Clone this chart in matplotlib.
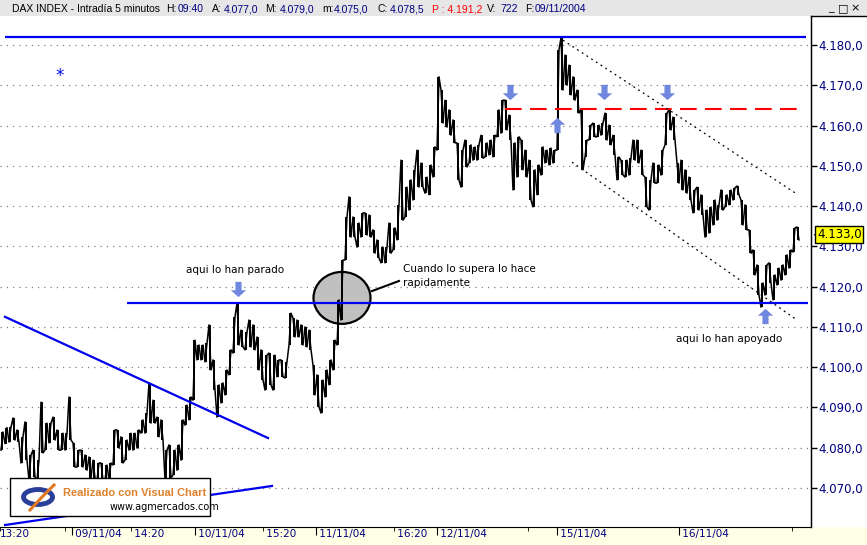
import matplotlib
matplotlib.use("Agg")
from matplotlib import pyplot as plt
from matplotlib.path import Path
from matplotlib.patches import Ellipse, Rectangle
from matplotlib.lines import Line2D
import matplotlib.transforms as mtransforms

# --- data (one bar ~ 20 min, low / high) ---
lows = [4079.4, 4081.0, 4081.4, 4081.9, 4081.4, 4076.2, 4076.9, 4072.0, 4072.7, 4072.0,
        4078.7, 4079.4, 4081.2, 4081.9, 4079.4, 4079.4, 4079.4, 4081.9, 4075.2, 4075.2,
        4075.2, 4074.4, 4072.5, 4072.5, 4072.0, 4072.0, 4072.0, 4072.0, 4075.7, 4079.9,
        4076.2, 4076.9, 4079.4, 4079.4, 4079.9, 4083.6, 4083.6, 4086.1, 4086.1, 4082.7,
        4081.9, 4072.0, 4072.5, 4073.2, 4074.4, 4076.9, 4085.6, 4086.9, 4091.8, 4101.8,
        4101.8, 4101.3, 4099.3, 4094.3, 4087.6, 4091.1, 4093.1, 4098.1, 4103.5, 4105.5,
        4105.0, 4104.3, 4105.0, 4104.3, 4099.3, 4096.8, 4094.3, 4095.6, 4094.3, 4097.6,
        4097.6, 4097.3, 4105.5, 4107.5, 4107.5, 4105.5, 4105.0, 4104.3, 4093.1, 4090.1,
        4088.6, 4092.6, 4095.6, 4099.3, 4105.5, 4111.7, 4126.6, 4132.3, 4132.3, 4129.8,
        4132.3, 4132.8, 4132.3, 4128.3, 4127.1, 4125.9, 4125.9, 4128.3, 4129.1, 4131.6,
        4136.5, 4137.3, 4139.0, 4141.5, 4144.7, 4144.7, 4143.2, 4142.8, 4147.2, 4153.9,
        4160.6, 4159.6, 4157.6, 4155.7, 4146.5, 4144.7, 4149.7, 4150.7, 4151.4, 4151.4,
        4151.9, 4152.2, 4152.7, 4152.2, 4157.2, 4158.1, 4158.9, 4156.4, 4144.0, 4147.2,
        4149.0, 4147.2, 4141.5, 4139.8, 4142.8, 4147.7, 4150.7, 4150.2, 4150.7, 4153.9,
        4168.8, 4170.0, 4167.6, 4166.3, 4163.1, 4149.0, 4152.2, 4156.4, 4157.2, 4157.2,
        4157.6, 4156.4, 4155.2, 4152.7, 4146.5, 4147.7, 4147.2, 4147.7, 4151.4, 4150.7,
        4147.7, 4139.8, 4139.0, 4145.7, 4145.7, 4147.7, 4155.2, 4158.9, 4156.4, 4145.7,
        4144.0, 4143.2, 4141.5, 4138.3, 4139.0, 4137.8, 4132.3, 4133.3, 4135.3, 4136.5,
        4139.0, 4139.8, 4140.3, 4141.5, 4142.8, 4135.3, 4134.1, 4128.3, 4122.9, 4117.9,
        4114.9, 4117.9, 4120.9, 4116.7, 4120.4, 4121.6, 4122.9, 4124.6, 4128.6, 4131.6]
highs = [4083.9, 4085.0, 4085.1, 4087.4, 4084.4, 4082.7, 4086.4, 4078.2, 4079.4, 4076.9,
         4091.3, 4086.1, 4086.1, 4087.6, 4084.4, 4083.6, 4083.6, 4092.6, 4081.2, 4079.4,
         4079.4, 4078.2, 4077.7, 4076.9, 4076.2, 4076.2, 4075.7, 4076.2, 4084.4, 4084.4,
         4082.7, 4081.9, 4083.6, 4083.6, 4084.4, 4086.9, 4088.6, 4096.1, 4091.8, 4087.6,
         4086.9, 4079.4, 4080.7, 4079.4, 4080.7, 4086.9, 4090.6, 4092.6, 4106.7, 4105.5,
         4105.5, 4106.0, 4110.5, 4101.8, 4095.6, 4096.1, 4099.3, 4104.3, 4112.5, 4115.9,
         4109.2, 4108.7, 4111.7, 4110.5, 4107.5, 4104.3, 4103.0, 4103.5, 4103.0, 4101.8,
         4101.8, 4101.3, 4113.4, 4112.2, 4111.7, 4110.5, 4110.0, 4109.2, 4100.5, 4098.1,
         4096.8, 4099.3, 4101.8, 4106.7, 4116.7, 4126.6, 4137.3, 4142.3, 4137.3, 4135.8,
         4138.3, 4138.3, 4137.8, 4134.1, 4131.6, 4129.8, 4129.8, 4135.8, 4134.6, 4140.3,
         4151.4, 4144.7, 4146.5, 4149.0, 4153.9, 4150.7, 4147.2, 4150.2, 4154.7, 4172.1,
         4168.8, 4166.3, 4163.9, 4161.4, 4155.7, 4153.9, 4156.4, 4155.2, 4154.7, 4155.2,
         4157.6, 4155.7, 4156.4, 4157.6, 4163.9, 4166.3, 4166.3, 4162.6, 4155.7, 4157.2,
         4156.4, 4153.9, 4151.4, 4149.0, 4150.2, 4154.7, 4153.9, 4154.4, 4153.9, 4178.8,
         4181.8, 4177.5, 4175.0, 4172.1, 4168.8, 4163.9, 4156.4, 4160.1, 4160.6, 4160.1,
         4160.6, 4163.1, 4160.1, 4157.6, 4152.2, 4151.4, 4151.4, 4151.9, 4156.4, 4156.4,
         4153.9, 4147.2, 4146.5, 4150.7, 4150.2, 4153.9, 4163.1, 4163.9, 4162.1, 4150.7,
         4151.4, 4149.0, 4147.2, 4144.0, 4144.7, 4142.8, 4139.0, 4139.8, 4141.5, 4140.3,
         4144.0, 4142.8, 4144.0, 4144.5, 4145.0, 4141.5, 4140.3, 4134.1, 4129.1, 4125.4,
         4120.9, 4125.4, 4125.9, 4122.9, 4124.6, 4125.4, 4127.9, 4129.1, 4134.6, 4134.8]
last_price = 4133.0

price_ticks = [4070, 4080, 4090, 4100, 4110, 4120, 4130, 4140, 4150, 4160, 4170, 4180]
day_ticks = [17.5, 48.25, 78.5, 108.75, 138.75, 169.25]
day_labels = ["09/11/04", "10/11/04", "11/11/04", "12/11/04", "15/11/04", "16/11/04"]
time_ticks = [-0.5, 15.75, 32.25, 65.25, 98.0, 131.5, 197.5]
time_labels = ["13:20", "", "14:20", "15:20", "16:20", "", ""]

# drawn studies (bar index, price)
top_level = 4182.0
support_level = 4116.0
resist_level = 4164.0
desc_x, desc_y = [0.75, 66.5], [4112.5, 4082.4]
asc_x, asc_y = [0.75, 67.5], [4060.8, 4070.5]
chan_up_x, chan_up_y = [140.25, 199.0], [4181.2, 4142.8]
chan_dn_x, chan_dn_y = [142.5, 198.75], [4150.9, 4111.7]
down_arrows = [(59.0, 4119.4), (127.0, 4168.3), (150.5, 4168.3), (166.25, 4168.3)]
up_arrows = [(138.75, 4160.1), (190.75, 4112.7)]

W, H = 867, 545


def fx(x):
    return x / W


def fy(y):
    return 1 - y / H


fig = plt.figure(figsize=(W / 100, H / 100), dpi=100)
fig.patch.set_facecolor("white")

# header bar and bottom strip
fig.add_artist(Rectangle((0, fy(16)), 1, 16 / H, transform=fig.transFigure,
                         facecolor="#e6e6e6", edgecolor="none", zorder=0))
fig.add_artist(Rectangle((0, 0), 1, 18 / H, transform=fig.transFigure,
                         facecolor="#ffffe6", edgecolor="none", zorder=0))

ax = fig.add_axes([0, fy(527), 811 / W, (527 - 17) / H])
ax.set_facecolor("none")
n = len(lows)
ax.set_xlim(-0.5, 811 / 4 - 0.5)
ax.set_ylim(4180 - (527 - 45) / 4.027, 4180 + 28 / 4.027)

# price bars: high-low sticks joined into one jagged trace
xs, ys = [], []
for i in range(n):
    mid = (lows[i] + highs[i]) / 2
    nxt = (lows[i + 1] + highs[i + 1]) / 2 if i + 1 < n else last_price
    a, b = (lows[i], highs[i]) if nxt >= mid else (highs[i], lows[i])
    xs += [i - 0.25, i + 0.25]
    ys += [a, b]
ax.vlines(range(n), lows, highs, color="black", lw=1.4, zorder=3)
ax.plot(xs, ys, color="black", lw=1.1, zorder=3)

# grid + axes
ax.set_yticks(price_ticks)
ax.set_yticklabels([f"{v:,.1f}".replace(",", "X").replace(".", ",").replace("X", ".")
                    for v in price_ticks])
ax.yaxis.tick_right()
ax.tick_params(axis="y", length=4, width=1, pad=1, labelsize=8.5, labelcolor="#000080")
ax.grid(axis="y", color="#808080", linestyle=(0, (1, 4)), lw=0.9)
for s in ["top", "left"]:
    ax.spines[s].set_visible(False)
ax.spines["right"].set_color("black")
ax.spines["bottom"].set_color("black")

ax.set_xticks(day_ticks)
ax.set_xticklabels([" " + d for d in day_labels])
ax.set_xticks(time_ticks, minor=True)
ax.set_xticklabels([(" " + t) if t and k else t for k, t in enumerate(time_labels)],
                   minor=True)
ax.tick_params(axis="x", which="major", length=6, pad=-4.5, labelsize=7.5, labelcolor="#000080")
ax.tick_params(axis="x", which="minor", length=3, pad=-1.5, labelsize=7.5, labelcolor="#000080")
for lab in ax.get_xticklabels() + ax.get_xticklabels(minor=True):
    lab.set_horizontalalignment("left")

# studies
blue = "#0000ee"
ax.hlines(top_level, 0.75, 201, color=blue, lw=1.6, zorder=4)
ax.hlines(support_level, 31.25, 201.5, color=blue, lw=1.6, zorder=4)
ax.plot(desc_x, desc_y, color=blue, lw=1.6, zorder=4)
ax.plot(asc_x, asc_y, color=blue, lw=1.6, zorder=4)
ax.plot([125.75, 200], [resist_level, resist_level], color="red", lw=1.5,
        dashes=(8, 4), zorder=4)
ax.plot(chan_up_x, chan_up_y, color="black", lw=0.9, linestyle=(0, (1.5, 3)), zorder=4)
ax.plot(chan_dn_x, chan_dn_y, color="black", lw=0.9, linestyle=(0, (1.5, 3)), zorder=4)

down_path = Path([(-0.2, 0.5), (0.2, 0.5), (0.2, -0.05), (0.5, -0.05), (0, -0.5),
                  (-0.5, -0.05), (-0.2, -0.05), (-0.2, 0.5)], closed=True)
up_path = Path([(x, -y) for x, y in down_path.vertices], closed=True)
arrow_col = "#6f87df"
ax.plot([p[0] for p in down_arrows], [p[1] for p in down_arrows], linestyle="none",
        marker=down_path, markersize=11, color=arrow_col, markeredgewidth=0, zorder=5)
ax.plot([p[0] for p in up_arrows], [p[1] for p in up_arrows], linestyle="none",
        marker=up_path, markersize=11, color=arrow_col, markeredgewidth=0, zorder=5)

ax.add_patch(Ellipse((85.0, 4117.2), 14.25, 12.9, facecolor="#c0c0c0",
                     edgecolor="black", lw=1.6, zorder=2))
ax.plot([92.5, 99.25], [4118.9, 4121.4], color="black", lw=1.5, zorder=4)

tfont = dict(fontsize=7.5, color="black", va="center", ha="left", zorder=6)
ax.text(46.0, 4124.1, "aqui lo han parado", **tfont)
ax.text(100.25, 4124.4, "Cuando lo supera lo hace", **tfont)
ax.text(100.25, 4120.9, "rapidamente", **tfont)
ax.text(168.5, 4107.0, "aqui lo han apoyado", **tfont)
ax.text(14.5, 4172.3, "*", fontsize=12, color=blue, ha="center", va="center")

# last price tag
trans = mtransforms.blended_transform_factory(ax.transAxes, ax.transData)
ax.text(1 + 6 / 811, last_price, "4.133,0", transform=trans, fontsize=8.5, va="center",
        ha="left", clip_on=False, zorder=10,
        bbox=dict(boxstyle="square,pad=0.15", facecolor="#ffff00", edgecolor="black", lw=1))
ax.text(1 + 1 / 811, last_price, "<", transform=trans, fontsize=5, va="center",
        ha="left", clip_on=False, color="black")

# right panel frame
fig.add_artist(Line2D([fx(811), fx(867)], [fy(16), fy(16)], color="black", lw=1))
fig.add_artist(Line2D([fx(811), fx(811)], [fy(16), fy(527)], color="black", lw=1))

# header texts
hdr = [(12, "DAX INDEX - Intradía 5 minutos", "black"), (166, "H:", "black"),
       (178, "09:40", "#000080"), (212, "A:", "black"), (224, "4.077,0", "#000080"),
       (265, "M:", "black"), (280, "4.079,0", "#000080"), (322, "m:", "black"),
       (334, "4.075,0", "#000080"), (377, "C:", "black"), (390, "4.078,5", "#000080"),
       (432, "P : 4.191,2", "red"), (487, "V:", "black"), (500, "722", "#000080"),
       (525, "F:", "black"), (535, "09/11/2004", "#000080")]
for x, t, c in hdr:
    fig.text(fx(x), fy(9), t, color=c, fontsize=7.5, family="Liberation Sans",
             va="center", ha="left")
for x, g in [(831, "_"), (843, "□"), (855, "×")]:
    fig.text(fx(x), fy(8), g, fontsize=8, va="center", ha="center", color="black")

# logo box
fig.add_artist(Rectangle((fx(10), fy(516)), 200 / W, 38 / H, transform=fig.transFigure,
                         facecolor="white", edgecolor="black", lw=1, zorder=5))
fig.add_artist(Ellipse((fx(38), fy(497)), 29 / W, 15 / H, transform=fig.transFigure,
                       fill=False, edgecolor="#2a3f9a", lw=3.5, zorder=6))
fig.add_artist(Line2D([fx(30), fx(42), fx(54)], [fy(510), fy(497), fy(485)],
                      color="#e07a20", lw=2.2, zorder=7))
fig.text(fx(63), fy(493), "Realizado con Visual Chart", fontsize=8, fontweight="bold",
         family="Liberation Sans", color="#e0802a", va="center", ha="left", zorder=8)
fig.text(fx(110), fy(507), "www.agmercados.com", fontsize=7, color="black",
         va="center", ha="left", zorder=8)

fig.savefig("out.png", dpi=100)
